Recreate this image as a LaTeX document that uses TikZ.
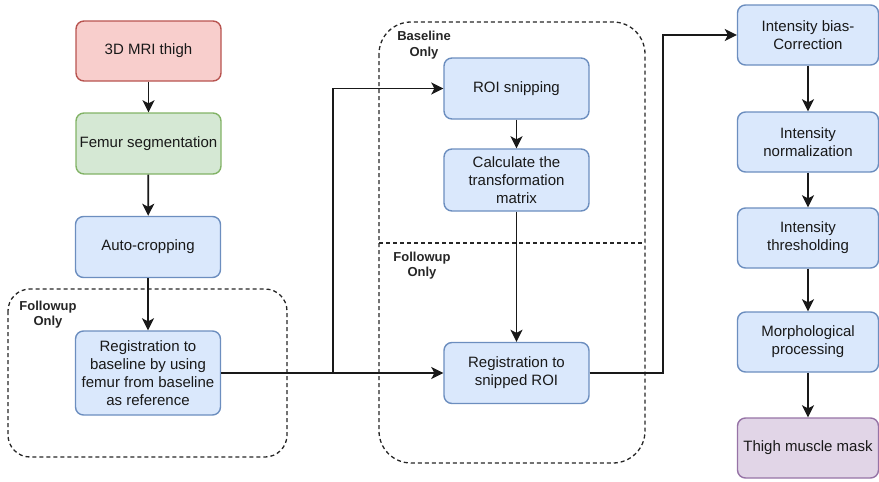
\documentclass[tikz,border=0pt]{standalone}
\usepackage{fontspec}
\setmainfont{Liberation Sans}
\usetikzlibrary{arrows.meta}
\definecolor{redfill}{HTML}{F8CECC}\definecolor{redline}{HTML}{B85450}
\definecolor{greenfill}{HTML}{D5E8D4}\definecolor{greenline}{HTML}{82B366}
\definecolor{bluefill}{HTML}{DAE8FC}\definecolor{blueline}{HTML}{6C8EBF}
\definecolor{purplefill}{HTML}{E1D5E7}\definecolor{purpleline}{HTML}{9673A6}
\tikzset{
  box/.style={draw=blueline, fill=bluefill, line width=1.4pt, rounded corners=8pt,
    align=center, inner sep=2pt, font=\fontsize{15}{18}\selectfont, text=black!90},
  redbox/.style={box, draw=redline, fill=redfill},
  greenbox/.style={box, draw=greenline, fill=greenfill},
  purplebox/.style={box, draw=purpleline, fill=purplefill},
  conn/.style={line width=1.7pt, draw=black!90},
  arr/.style={conn, -{Stealth[length=12pt,width=12pt,inset=3pt]}},
  dashbox/.style={line width=1.3pt, dash pattern=on 4pt off 3pt, draw=black!85},
  grouplabel/.style={align=center, font=\bfseries\fontsize{13}{15.5}\selectfont, text=black!85},
}
\begin{document}
\begin{tikzpicture}[x=1pt,y=-1pt]
\useasboundingbox (0,0) rectangle (879,482);
% dashed groups
\draw[dashbox, rounded corners=22pt] (8,289) rectangle (287,457);
\draw[dashbox, rounded corners=32pt] (379,22) rectangle (645,463);
\draw[dashbox] (379,243) -- (645,243);
\node[grouplabel] (lblA) at (48,314.5) {Followup\\Only};
\node[grouplabel] (lblB) at (424,45) {Baseline\\Only};
\node[grouplabel] (lblC) at (422,265.5) {Followup\\Only};
% left column
\node[redbox, minimum width=145pt, minimum height=60pt] (mri) at (148.5,51) {3D MRI thigh};
\node[greenbox, minimum width=145pt, minimum height=61pt] (femur) at (148.5,143.5) {Femur segmentation};
\node[box, minimum width=145pt, minimum height=61pt] (crop) at (148,247) {Auto-cropping};
\node[box, minimum width=145pt, minimum height=84pt] (reg1) at (148,373) {Registration to\\baseline by using\\femur from baseline\\as reference};
% middle column
\node[box, minimum width=145pt, minimum height=61pt] (roi) at (516.5,88.5) {ROI snipping};
\node[box, minimum width=145pt, minimum height=62pt] (calc) at (516.5,180) {Calculate the\\transformation\\matrix};
\node[box, minimum width=145pt, minimum height=61pt] (reg2) at (516.5,373) {Registration to\\snipped ROI};
% right column
\node[box, minimum width=141pt, minimum height=60pt] (bias) at (808,35) {Intensity bias-\\Correction};
\node[box, minimum width=141pt, minimum height=60pt] (norm) at (808,142) {Intensity\\normalization};
\node[box, minimum width=141pt, minimum height=60pt] (thr) at (808,238) {Intensity\\thresholding};
\node[box, minimum width=141pt, minimum height=60pt] (morph) at (808,342) {Morphological\\processing};
\node[purplebox, minimum width=141pt, minimum height=60pt] (mask) at (808,448) {Thigh muscle mask};
% connectors
\draw[arr] (mri) -- (femur);
\draw[arr] (femur) -- (crop);
\draw[arr] (crop) -- (reg1);
\coordinate (j1) at (333,373);
\draw[conn] (reg1.east) -- (j1);
\draw[arr] (j1) |- (roi.west);
\draw[arr] (j1) -- (reg2.west);
\draw[arr] (roi) -- (calc);
\draw[arr] (calc) -- (reg2);
\coordinate (j2) at (663,373);
\draw[arr] (reg2.east) -- (j2) |- (bias.west);
\draw[arr] (bias) -- (norm);
\draw[arr] (norm) -- (thr);
\draw[arr] (thr) -- (morph);
\draw[arr] (morph) -- (mask);
\end{tikzpicture}
\end{document}
